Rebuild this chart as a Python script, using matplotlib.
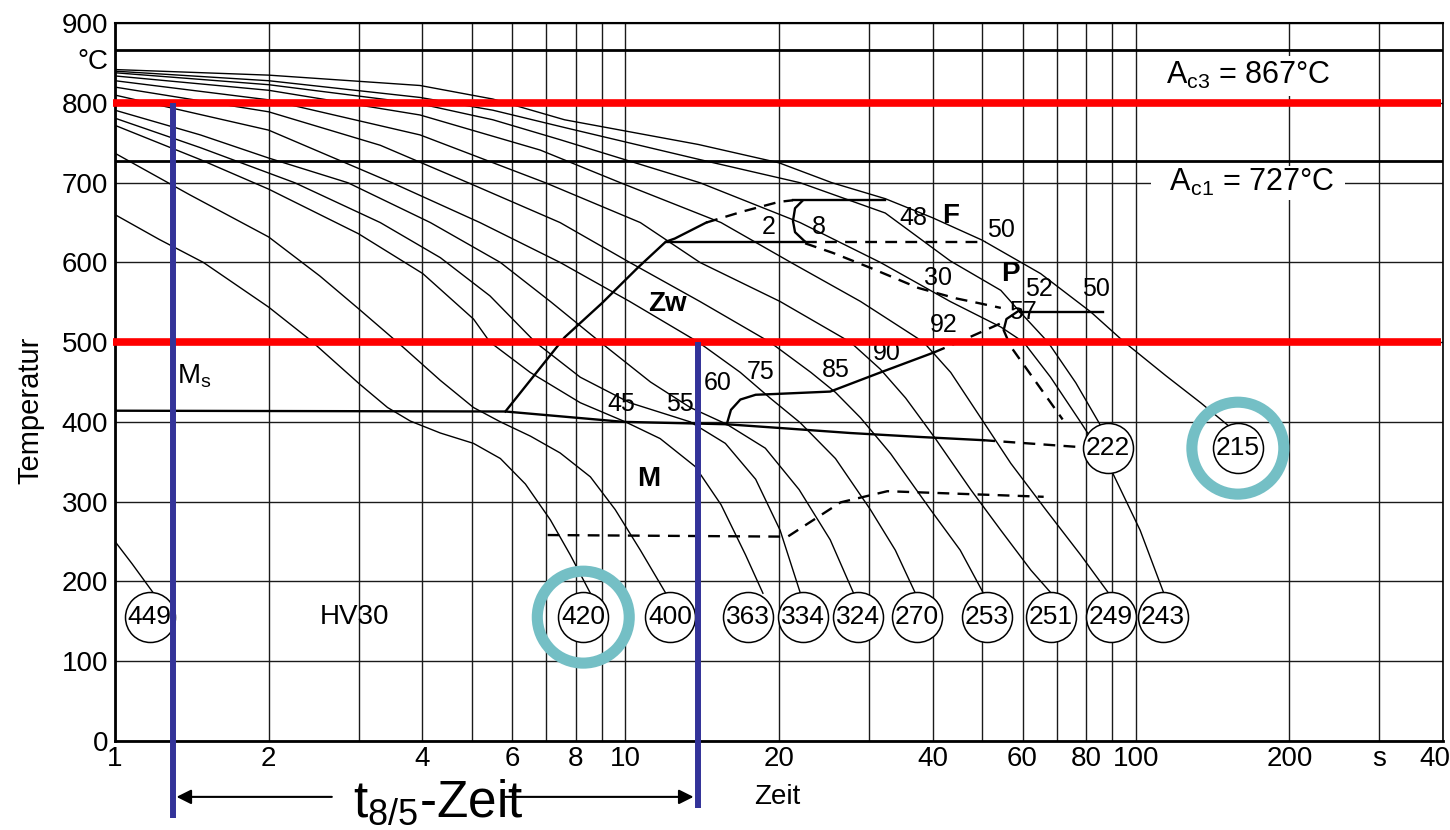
import numpy as np
import matplotlib
matplotlib.use("Agg")
import matplotlib.pyplot as plt

plt.rcParams['font.family'] = ['Liberation Sans', 'DejaVu Sans']
plt.rcParams['mathtext.default'] = 'regular'

# hardness (HV30) at the end of each cooling curve
hv_values = [449, 420, 400, 363, 334, 324, 270, 253, 251, 249, 243, 222, 215]
hv_t = [1.17, 8.27, 12.25, 17.4, 22.3, 28.5, 37.2, 51.0, 68.1, 89.3, 113, 88.1, 158.5]
hv_T = [155, 155, 155, 155, 155, 155, 155, 155, 155, 155, 155, 367, 367]

# cooling curves, time in s and temperature in degC
curve_t = [
    [1.0, 1.08, 1.19],
    [1.0, 1.22, 1.49, 2.0, 2.41, 3.02, 3.42, 3.79, 4.34, 5.04, 5.69, 6.37, 7.13, 7.8, 8.54],
    [1.0, 1.40, 2.0, 2.52, 3.0, 3.62, 4.34, 5.04, 5.69, 6.52, 7.45, 8.54, 9.55, 10.7, 12.0],
    [1.0, 1.47, 2.0, 3.0, 4.01, 5.04, 5.43, 6.51, 8.16, 10.0, 11.7, 13.7, 15.4, 17.2, 18.6],
    [1.0, 1.47, 2.25, 3.31, 4.34, 5.43, 6.66, 8.16, 10.2, 13.4, 15.7, 18.0, 20.1, 22.0],
    [1.0, 1.47, 2.0, 2.86, 4.15, 5.69, 7.13, 8.93, 11.2, 13.4, 15.8, 18.8, 21.9, 25.2, 28.0],
    [1.0, 2.0, 3.49, 5.19, 7.45, 10.2, 13.9, 16.8, 19.2, 22.0, 25.8, 30.2, 33.8, 37.0],
    [1.0, 2.0, 3.31, 4.92, 7.45, 10.2, 14.0, 19.2, 23.1, 25.8, 28.9, 33.1, 39.6, 45.3, 50.3],
    [1.0, 2.0, 3.96, 6.97, 10.7, 14.0, 20.1, 27.6, 31.6, 35.4, 40.5, 47.5, 54.4, 62.3, 68.3],
    [1.0, 2.0, 3.96, 6.81, 9.78, 15.4, 21.1, 28.9, 38.4, 43.4, 49.7, 56.9, 66.6, 78.0, 88.5],
    [1.0, 2.0, 3.96, 5.5, 7.45, 14.0, 22.0, 31.6, 43.3, 54.4, 60.3, 68.1, 78.1, 89.3, 102, 113.5],
    [1.0, 2.0, 3.96, 5.5, 7.63, 14.0, 22.0, 32.3, 43.3, 54.4, 59.3, 67.3, 76.3, 85.4],
    [1.0, 2.0, 3.96, 5.5, 7.6, 13.9, 20.0, 25.4, 32.3, 40.0, 50.0, 65.1, 81.6, 95.0, 114.5, 134, 152],
]
curve_T = [
    [250, 222, 185],
    [660, 629, 600, 544, 503, 447, 418, 401, 386, 373, 354, 322, 277, 233, 185],
    [737, 685, 632, 583, 542, 497, 452, 418, 400, 382, 361, 331, 290, 239, 185],
    [772, 729, 692, 636, 586, 529, 500, 462, 424, 400, 379, 344, 296, 233, 185],
    [781, 744, 700, 650, 606, 558, 500, 456, 424, 400, 373, 328, 264, 186],
    [791, 760, 731, 700, 650, 600, 551, 500, 450, 418, 397, 367, 315, 252, 185],
    [810, 766, 700, 650, 600, 551, 500, 462, 430, 399, 354, 290, 239, 185],
    [820, 789, 747, 700, 650, 600, 551, 500, 462, 437, 405, 360, 290, 239, 185],
    [828, 804, 760, 700, 650, 600, 551, 500, 466, 430, 379, 315, 264, 214, 185],
    [834, 816, 785, 741, 700, 650, 600, 551, 500, 462, 405, 348, 290, 233, 185],
    [838, 823, 799, 779, 754, 700, 650, 600, 551, 519, 500, 456, 399, 341, 264, 185],
    [840, 828, 807, 791, 769, 729, 700, 662, 602, 565, 538, 500, 449, 395],
    [842, 835, 822, 805, 779, 748, 725, 700, 680, 656, 628, 586, 538, 500, 458, 424, 395],
]

# transformation lines
ms_t = [1.0, 5.82, 9.91, 15.8, 20.4, 27.6, 37.9, 50.3]
ms_T = [414, 413, 400, 397, 392, 386, 381, 377]
ms_dash_t = [50.3, 79.1]
ms_dash_T = [377, 368]
zw_start_t = [5.82, 7.6, 9.0, 10.6, 12.0, 12.5, 14.4]
zw_start_T = [413, 506, 549, 594, 626, 630, 650]
f_start_dash_t = [14.4, 17.0, 20.0, 21.3]
f_start_dash_T = [650, 664, 676, 678]
f_top_t = [21.3, 32.3]
f_top_T = [678, 678]
f_nose_t = [22.2, 21.5, 21.3, 21.5, 22.5]
f_nose_T = [677, 668, 652, 638, 626]
f_low_t = [12.0, 22.5]
f_low_T = [626, 626]
f_end_dash_t = [22.5, 50.8]
f_end_dash_T = [626, 626]
p_start_dash_t = [22.5, 25.5, 30.0, 37.5, 44.4, 49.2, 54.4]
p_start_dash_T = [624, 612, 594, 568, 555, 549, 543]
p_nose_t = [59.5, 55.8, 55.1, 56.4]
p_nose_T = [541, 529, 515, 500]
p_top_t = [59.2, 86.1]
p_top_T = [538, 538]
p_end_dash_t = [57.4, 71.9]
p_end_dash_T = [491, 403]
zw_end_t = [15.8, 16.1, 16.8, 18.0, 19.7, 25.2, 31.6, 40.2]
zw_end_T = [397, 415, 428, 434, 435, 438, 462, 487]
zw_end_dash_t = [40.2, 45.3, 55.0]
zw_end_dash_T = [487, 501, 525]
mf_dash_t = [7.04, 20.8, 26.4, 32.6, 66.0]
mf_dash_T = [258, 256, 299, 313, 306]

# percentages written next to the transformation lines
pct_text = ['2', '8', '48', '50', '30', '52', '50', '57', '92', '90', '85', '75', '60', '55', '45']
pct_t = [19.1, 23.9, 36.7, 54.4, 40.9, 64.5, 83.5, 60.0, 42.0, 32.6, 25.8, 18.4, 15.2, 12.8, 9.8]
pct_T = [644, 644, 656, 641, 581, 567, 567, 538, 522, 487, 465, 463, 449, 422, 422]

phase_text = ['Zw', 'M', 'F', 'P']
phase_t = [12.1, 11.1, 43.4, 56.9]
phase_T = [548, 328, 658, 586]

xticks = [1, 2, 3, 4, 5, 6, 7, 8, 9, 10, 20, 30, 40, 50, 60, 70, 80, 90, 100, 200, 300, 400]
xlabels = ['1', '2', '', '4', '', '6', '', '8', '', '10', '20', '', '40', '', '60', '', '80', '',
           '100', '200', 's', '400']

ac3, ac1 = 867, 727
t85_start, t85_end = 1.30, 13.9

fig = plt.figure(figsize=(14.5, 8.3), dpi=100)
ax = fig.add_axes([0.0793, 0.1076, 0.9159, 0.8643])
ax.set_xscale('log')
ax.set_xlim(1, 400)
ax.set_ylim(0, 900)
ax.set_xticks(xticks)
ax.set_xticklabels(xlabels)
ax.xaxis.set_minor_locator(matplotlib.ticker.NullLocator())
ax.set_yticks(range(0, 901, 100))
ax.tick_params(length=0, labelsize=20)
ax.tick_params(axis='x', pad=4)
ax.tick_params(axis='y', pad=5)
ax.grid(True, color='#1a1a1a', lw=1.0, zorder=1)
ax.set_axisbelow(True)
for side, w in [('left', 2.0), ('bottom', 2.0), ('top', 1.5), ('right', 1.2)]:
    ax.spines[side].set_linewidth(w)

ax.axhline(ac3, color='k', lw=2.0, zorder=1.5)
ax.axhline(ac1, color='k', lw=2.0, zorder=1.5)

for t, T in zip(curve_t, curve_T):
    ax.plot(t, T, color='k', lw=1.0, zorder=2)

solid = [(ms_t, ms_T), (zw_start_t, zw_start_T), (f_top_t, f_top_T), (f_nose_t, f_nose_T),
         (f_low_t, f_low_T), (p_nose_t, p_nose_T), (p_top_t, p_top_T), (zw_end_t, zw_end_T)]
dashed = [(ms_dash_t, ms_dash_T), (f_start_dash_t, f_start_dash_T), (f_end_dash_t, f_end_dash_T),
          (p_start_dash_t, p_start_dash_T), (p_end_dash_t, p_end_dash_T),
          (zw_end_dash_t, zw_end_dash_T), (mf_dash_t, mf_dash_T)]
for t, T in solid:
    ax.plot(t, T, color='k', lw=1.7, zorder=3)
for t, T in dashed:
    ax.plot(t, T, color='k', lw=1.7, ls=(0, (5, 3.5)), zorder=3)

ax.scatter(hv_t, hv_T, s=1296, facecolor='white', edgecolor='k', lw=1.1, zorder=4)
for v, t, T in zip(hv_values, hv_t, hv_T):
    ax.text(t, T, str(v), fontsize=19, ha='center', va='center', zorder=5)

for s, t, T in zip(pct_text, pct_t, pct_T):
    ax.text(t, T, s, fontsize=18, ha='center', va='center', zorder=5)
for s, t, T in zip(phase_text, phase_t, phase_T):
    ax.text(t, T, s, fontsize=20, fontweight='bold', ha='center', va='center', zorder=5)

ax.text(1.32, 457, '$M_s$', fontsize=20, ha='left', va='center', zorder=5)
ax.text(2.95, 155, 'HV30', fontsize=20, ha='center', va='center', zorder=5)
ax.text(114.5, 834, 'A$_{c3}$ = 867°C', fontsize=22, ha='left', va='center', zorder=5,
        bbox=dict(fc='white', ec='none', pad=3))
ax.text(108, 700, '  A$_{c1}$ = 727°C  ', fontsize=22, ha='left', va='center', zorder=5,
        bbox=dict(fc='white', ec='none', pad=1))
ax.text(-0.005, 851, '°C', transform=ax.get_yaxis_transform(), fontsize=20,
        ha='right', va='center')

fig.text(30 / 1450, 1 - 410 / 830, 'Temperatur', rotation=90, fontsize=21, ha='center', va='center')
fig.text(777 / 1450, 1 - 797 / 830, 'Zeit', fontsize=20, ha='center', va='center')

# t8/5 marking: 800 and 500 degC levels and the time between them
ax.plot([0.99, 396], [800, 800], color='#ff0000', lw=5.5, solid_capstyle='butt', clip_on=False, zorder=6)
ax.plot([0.99, 396], [500, 500], color='#ff0000', lw=5.5, solid_capstyle='butt', clip_on=False, zorder=6)
ax.plot([t85_start, t85_start], [800, -97], color='#333399', lw=4.3, solid_capstyle='butt',
        clip_on=False, zorder=7)
ax.plot([t85_end, t85_end], [500, -84], color='#333399', lw=4.3, solid_capstyle='butt',
        clip_on=False, zorder=7)
arrow = dict(arrowstyle='-|>', color='k', lw=1.5, mutation_scale=22, shrinkA=0, shrinkB=0)
ax.annotate('', xy=(1.32, -70.5), xytext=(2.66, -70.5), arrowprops=arrow, annotation_clip=False)
ax.annotate('', xy=(13.6, -70.5), xytext=(5.82, -70.5), arrowprops=arrow, annotation_clip=False)
ax.text(2.93, -95.5, '$t_{8/5}$-Zeit', fontsize=37, ha='left', va='baseline', clip_on=False)

# highlighted hardness values
ax.scatter([hv_t[1], hv_t[12]], [hv_T[1], hv_T[12]], s=4382, facecolor='none',
           edgecolor='#74bfc5', lw=8, zorder=8, clip_on=False)

fig.savefig('out.png', dpi=100)
